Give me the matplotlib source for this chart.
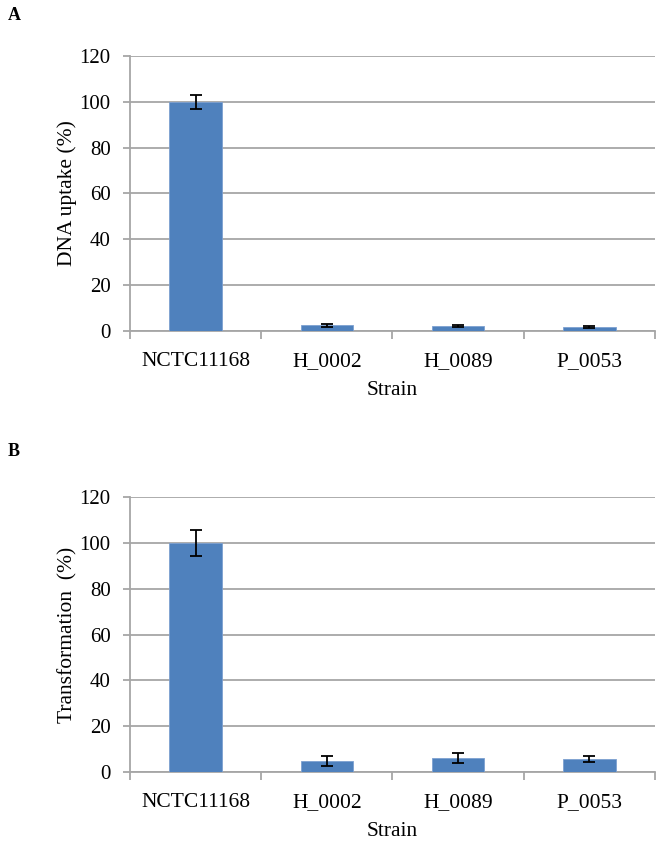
import matplotlib
matplotlib.use('Agg')
import matplotlib.pyplot as plt
import numpy as np

# данные
strains = ['NCTC11168', 'H_0002', 'H_0089', 'P_0053']
uptake = [100, 2.4, 2.3, 1.8]
uptake_err = [3.1, 0.6, 0.35, 0.35]
transform = [100, 5.0, 6.1, 5.5]
transform_err = [5.8, 2.2, 2.2, 1.3]
yticks = [0, 20, 40, 60, 80, 100, 120]

plt.rcParams['font.family'] = ['Liberation Serif', 'DejaVu Serif']

bar_color = '#4f81bd'
grid_color = '#a6a6a6'

fig = plt.figure(figsize=(6.62, 8.42), dpi=100)

def panel(rect, values, errs, ylabel, letter, letter_y):
    ax = fig.add_axes(rect)
    x = np.arange(len(strains))
    ax.bar(x, values, width=0.4, color=bar_color, edgecolor='#7da0d0',
           linewidth=0.6, zorder=3)
    ax.errorbar(x, values, yerr=errs, fmt='none', ecolor='black',
                elinewidth=1.3, capsize=4, capthick=1.3, zorder=4)
    ax.set_xlim(-0.5, len(strains) - 0.5)
    ax.set_ylim(0, 120)
    ax.set_yticks(yticks)
    ax.yaxis.grid(True, color=grid_color, linewidth=1.3, zorder=0)
    ax.set_axisbelow(True)
    ax.set_xticks(x)
    ax.set_xticklabels(strains, fontsize=15.5)
    ax.set_xticks(np.arange(-0.5, len(strains)), minor=True)
    ax.tick_params(axis='x', which='major', length=0, pad=15)
    ax.tick_params(axis='x', which='minor', length=6, color=grid_color, width=1.3)
    ax.tick_params(axis='y', length=5, color=grid_color, width=1.3,
                   labelsize=15, pad=9)
    for s in ['top', 'right']:
        ax.spines[s].set_visible(False)
    for s in ['left', 'bottom']:
        ax.spines[s].set_color(grid_color)
        ax.spines[s].set_linewidth(1.3)
    ax.set_xlabel('Strain', fontsize=15.5, labelpad=7)
    ax.set_ylabel(ylabel, fontsize=15.5, labelpad=1.5)
    fig.text(0.012, letter_y, letter, fontsize=13, fontweight='bold',
             ha='left', va='center')
    return ax

panel([0.1964, 0.6069, 0.793, 0.3266], uptake, uptake_err,
      'DNA uptake (%)', 'A', 1 - 15 / 842)
panel([0.1964, 0.0831, 0.793, 0.3266], transform, transform_err,
      'Transformation  (%)', 'B', 1 - 452 / 842)

fig.savefig('out.png', dpi=100)
